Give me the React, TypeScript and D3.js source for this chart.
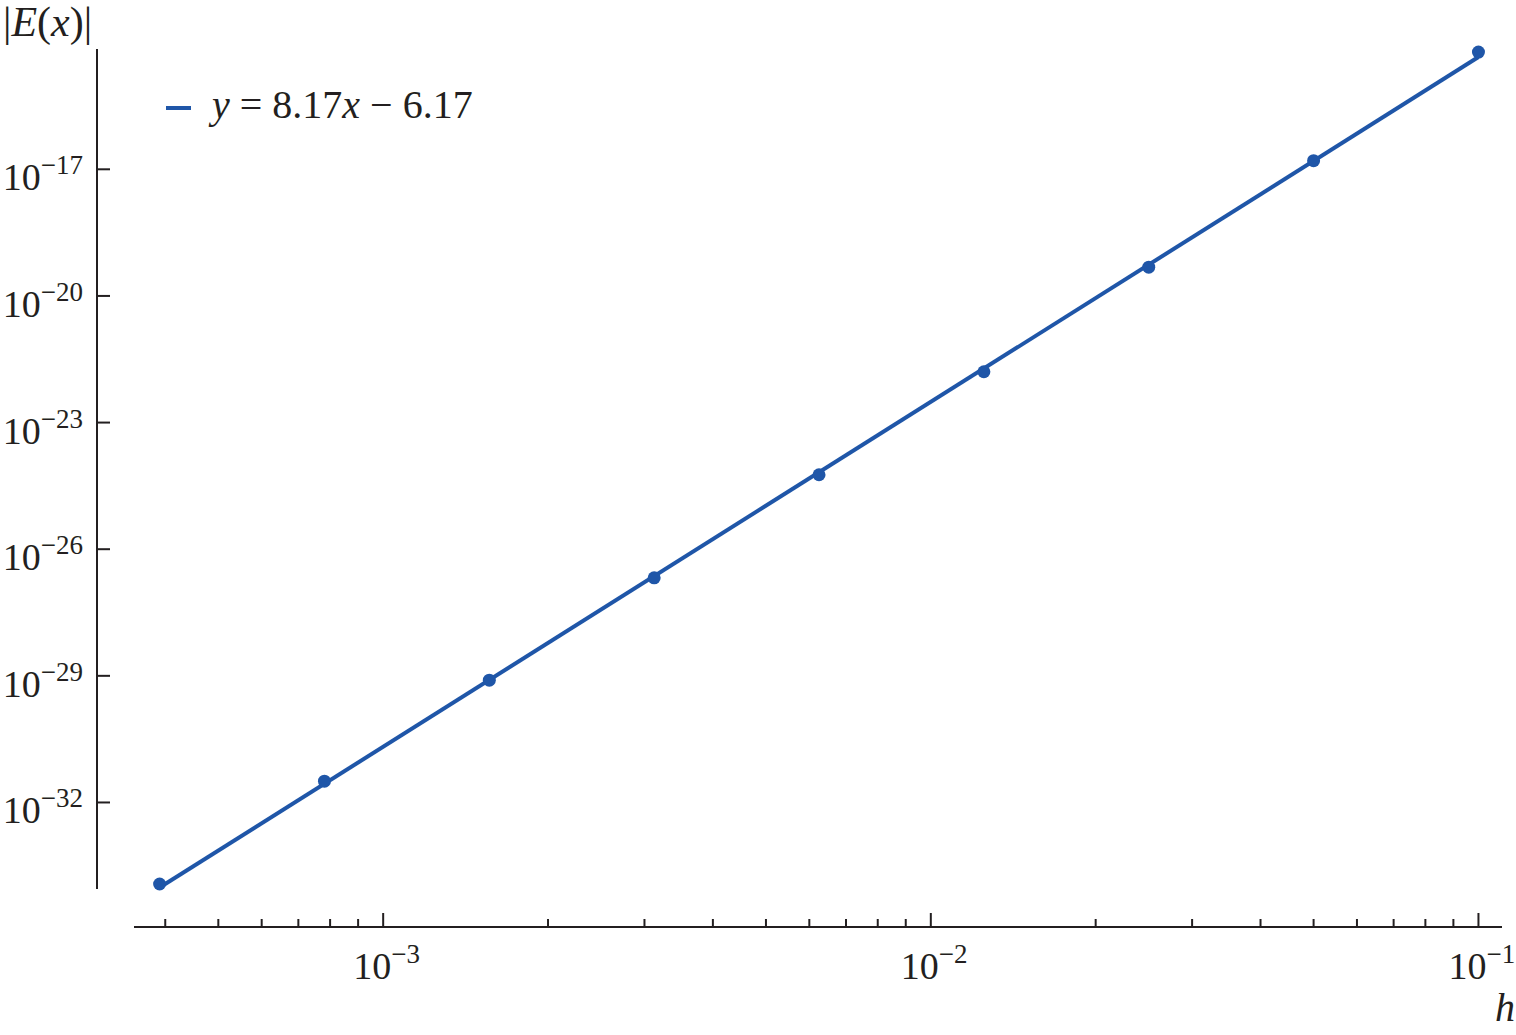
import * as d3 from "d3";

// step sizes h and measured errors |E(x)|
const hValues = [0.1, 0.05, 0.025, 0.0125, 0.00625, 0.003125, 0.0015625, 0.00078125, 0.000390625];
const errValues = [6.0e-15, 1.6e-17, 4.8e-20, 1.6e-22, 5.8e-25, 2.1e-27, 7.9e-30, 3.2e-32, 1.17e-34];

// fitted line in log10 space: y = slope * x + intercept
const fitSlope = 8.17;
const fitIntercept = -6.17;
const legendLabel = ["y", " = 8.17", "x", " − 6.17"];

const xTickExps = [-3, -2, -1];
const yTickExps = [-17, -20, -23, -26, -29, -32];

const W = 1516;
const H = 1035;
const BLUE = "#1f56a8";
const AXIS = "#231f20";
const FONT = "'Liberation Serif', 'Times New Roman', serif";

const x = d3.scaleLog().domain([10 ** -3.455, 10 ** -0.957]).range([134, 1502]);
const y = d3.scaleLog().domain([10 ** -34.05, 10 ** -14.15]).range([889, 49]);

const axisY = 927;
const axisX = 97;

function Pow({ exp, x0, y0, anchor }: { exp: number; x0: number; y0: number; anchor: string }) {
  return (
    <text x={x0} y={y0} textAnchor={anchor} fontFamily={FONT} fontSize={38} fill={AXIS}>
      10
      <tspan fontSize={27} dy={-16}>
        {`−${Math.abs(exp)}`}
      </tspan>
    </text>
  );
}

export default function App() {
  const points = hValues.map((h, i) => ({ h, e: errValues[i] }));
  const hExtent = d3.extent(hValues) as [number, number];
  const fit = (h: number) => 10 ** (fitSlope * Math.log10(h) + fitIntercept);
  const fitLine = d3
    .line<number>()
    .x((h) => x(h))
    .y((h) => y(fit(h)));

  const xTicks = x.ticks();
  const isMajor = (t: number) => Math.abs(Math.log10(t) - Math.round(Math.log10(t))) < 1e-9;

  return (
    <svg width={W} height={H} style={{ position: "absolute", left: 0, top: 0, background: "#fff" }}>
      {/* y axis */}
      <line x1={axisX} x2={axisX} y1={y.range()[1]} y2={y.range()[0]} stroke={AXIS} strokeWidth={2} />
      {yTickExps.map((e) => (
        <g key={e}>
          <line x1={axisX} x2={axisX + 13} y1={y(10 ** e)} y2={y(10 ** e)} stroke={AXIS} strokeWidth={2} />
          <Pow exp={e} x0={83} y0={y(10 ** e) + 21} anchor="end" />
        </g>
      ))}

      {/* x axis */}
      <line x1={x.range()[0]} x2={x.range()[1]} y1={axisY} y2={axisY} stroke={AXIS} strokeWidth={2} />
      {xTicks.map((t, i) => (
        <line
          key={i}
          x1={x(t)}
          x2={x(t)}
          y1={axisY}
          y2={axisY - (isMajor(t) ? 14 : 8)}
          stroke={AXIS}
          strokeWidth={2}
        />
      ))}
      {xTickExps.map((e) => (
        <Pow key={e} exp={e} x0={x(10 ** e) - 30} y0={979} anchor="start" />
      ))}

      {/* axis labels */}
      <text x={3} y={36} fontFamily={FONT} fontSize={42} fill={AXIS}>
        |<tspan fontStyle="italic">E</tspan>(<tspan fontStyle="italic">x</tspan>)|
      </text>
      <text x={1495} y={1021} fontFamily={FONT} fontSize={40} fontStyle="italic" fill={AXIS}>
        h
      </text>

      {/* fit line */}
      <path d={fitLine([hExtent[0], hExtent[1]]) || ""} fill="none" stroke={BLUE} strokeWidth={4} />

      {/* data points */}
      {points.map((p, i) => (
        <circle key={i} cx={x(p.h)} cy={y(p.e)} r={6.5} fill={BLUE} />
      ))}

      {/* legend */}
      <line x1={166} x2={191} y1={108} y2={108} stroke={BLUE} strokeWidth={4} />
      <text x={212} y={118} fontFamily={FONT} fontSize={40} fill={AXIS}>
        <tspan fontStyle="italic">{legendLabel[0]}</tspan>
        {legendLabel[1]}
        <tspan fontStyle="italic">{legendLabel[2]}</tspan>
        {legendLabel[3]}
      </text>
    </svg>
  );
}
